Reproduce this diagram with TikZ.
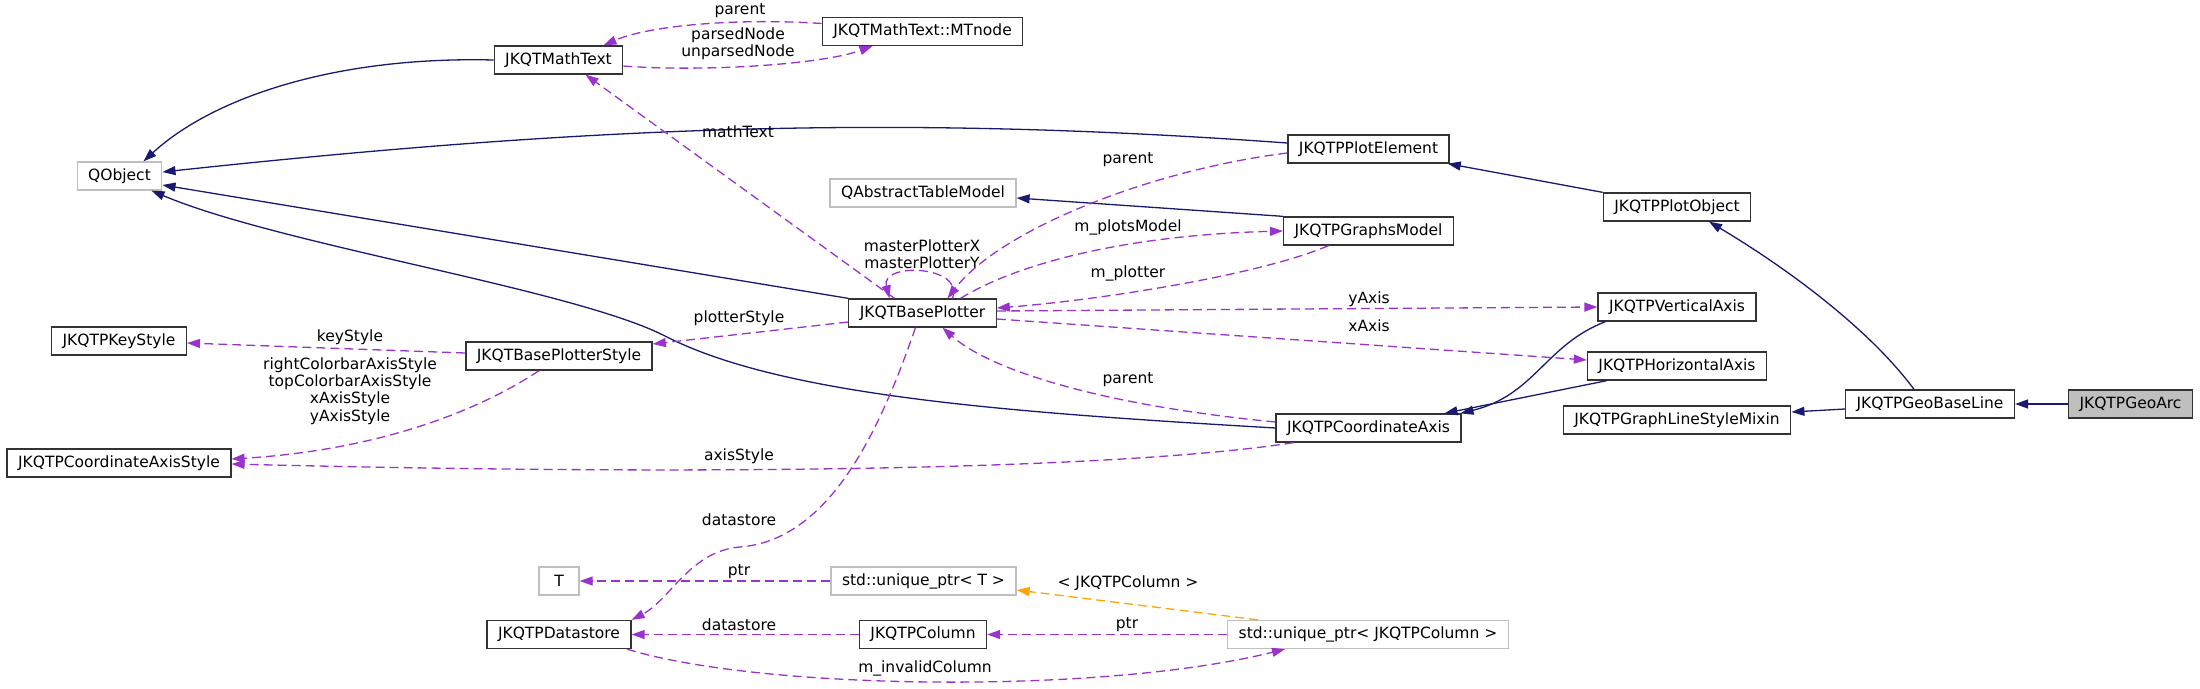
\documentclass[tikz,border=0pt]{standalone}
\usepackage{fontspec}
\setmainfont{DejaVu Sans}
\usetikzlibrary{arrows.meta}
\definecolor{EdgeNavy}{HTML}{191970}
\definecolor{EdgePurple}{HTML}{9A32CD}
\definecolor{EdgeOrange}{HTML}{FFA500}
\definecolor{ExtGray}{HTML}{BFBFBF}
\definecolor{BoxLine}{HTML}{333333}
\newcommand{\classfont}{\fontsize{15.5pt}{17.4pt}\selectfont}
\tikzset{
  cls/.style     ={rectangle, draw=BoxLine, line width=1.3pt, fill=white,
                   font=\classfont, inner xsep=11pt, inner ysep=0pt,
                   minimum height=28pt, minimum width=40pt},
  clsext/.style  ={cls, draw=ExtGray},
  clsroot/.style ={cls, fill=ExtGray},
  inh/.style     ={-{Triangle[length=13pt,width=9pt]}, draw=EdgeNavy, line width=1.3pt},
  use/.style     ={-{Triangle[length=13pt,width=9pt]}, draw=EdgePurple, line width=1.3pt,
                   dash pattern=on 9pt off 5pt},
  tmpl/.style    ={use, draw=EdgeOrange},
  lbl/.style     ={font=\classfont, align=center, inner sep=0pt},
}
\begin{document}
\begin{tikzpicture}[x=1pt,y=-1pt]
  \useasboundingbox (0,0) rectangle (2200,688);

  % classes
  \node[cls]     (mtnode)      at (922.5,31.5) {JKQTMathText::MTnode};
  \node[cls]     (mathtext)    at (558.5,60)   {JKQTMathText};
  \node[clsext]  (qobject)     at (119.5,176)  {QObject};
  \node[clsext]  (qatm)        at (923,193)    {QAbstractTableModel};
  \node[cls]     (plotelem)    at (1368.5,149) {JKQTPPlotElement};
  \node[cls]     (graphsmodel) at (1368.5,231) {JKQTPGraphsModel};
  \node[cls]     (plotobj)     at (1677,207)   {JKQTPPlotObject};
  \node[cls]     (bplotter)    at (922.5,313)  {JKQTBasePlotter};
  \node[cls]     (vaxis)       at (1677,307)   {JKQTPVerticalAxis};
  \node[cls]     (haxis)       at (1677,366)   {JKQTPHorizontalAxis};
  \node[cls]     (caxis)       at (1368.5,428) {JKQTPCoordinateAxis};
  \node[cls]     (linemixin)   at (1677,420)   {JKQTPGraphLineStyleMixin};
  \node[cls]     (geobase)     at (1930,404)   {JKQTPGeoBaseLine};
  \node[clsroot] (geoarc)      at (2130.5,404) {JKQTPGeoArc};
  \node[cls]     (keystyle)    at (119,341)    {JKQTPKeyStyle};
  \node[cls]     (bpstyle)     at (559,356)    {JKQTBasePlotterStyle};
  \node[cls]     (caxisstyle)  at (119,463)    {JKQTPCoordinateAxisStyle};
  \node[clsext]  (tnode)       at (559,581)    {T};
  \node[clsext]  (uptrT)       at (923.5,581)  {std::unique\_ptr< T >};
  \node[cls]     (datastore)   at (559,634.5)  {JKQTPDatastore};
  \node[cls]     (column)      at (923,634.5)  {JKQTPColumn};
  \node[clsext]  (uptrcol)     at (1368,634.5) {std::unique\_ptr< JKQTPColumn >};

  % inheritance
  \draw[inh] (mathtext.west) .. controls (330,56) and (210,100) .. ([xshift=24pt]qobject.north);
  \draw[inh] ([yshift=6pt]plotelem.west) .. controls (900,115) and (600,125) .. ([yshift=4pt]qobject.east);
  \draw[inh] (bplotter.north west) -- ([yshift=-9pt]qobject.east);
  \draw[inh] (caxis.west) .. controls (1000,412) and (780,395) .. (665,336)
                          .. controls (573,289) and (280,245) .. ([xshift=32pt]qobject.south);
  \draw[inh] (graphsmodel.north west) -- ([yshift=-5pt]qatm.east);
  \draw[inh] (plotobj.north west) -- ([xshift=-2pt]plotelem.south east);
  \draw[inh] ([xshift=-16pt]geobase.north) .. controls (1870,330) and (1790,270) .. ([xshift=32pt]plotobj.south);
  \draw[inh] (geoarc.west) -- (geobase.east);
  \draw[inh] ([yshift=-5pt]geobase.west) -- ([yshift=8pt]linemixin.east);
  \draw[inh] ([xshift=8pt]vaxis.south west) .. controls (1545,345) and (1535,395) .. ([xshift=92pt]caxis.north);
  \draw[inh] ([xshift=20pt]haxis.south west) -- ([xshift=76pt]caxis.north);

  % usage
  \draw[use] ([yshift=8pt]mtnode.west) .. controls (740,18) and (650,25) .. ([xshift=45pt]mathtext.north);
  \node[lbl] (lbparentmt) at (740,11) {parent};
  \draw[use] ([yshift=-6pt]mathtext.east) .. controls (700,72) and (820,65) .. ([xshift=-50pt]mtnode.south);
  \node[lbl] (lbparsed) at (738,43.5) {parsedNode\\unparsedNode};
  \draw[use] ([xshift=-28pt]bplotter.north) -- ([xshift=27pt]mathtext.south);
  \node[lbl] (lbmathtext) at (738,132) {mathText};
  \draw[use] ([xshift=30pt]bplotter.north) .. controls (965,265) and (880,262) .. ([xshift=-33pt]bplotter.north);
  \node[lbl] (lbmaster) at (922,254) {masterPlotterX\\masterPlotterY};
  \draw[use] ([yshift=-4pt]plotelem.west) .. controls (1150,170) and (1000,230) .. ([xshift=25pt]bplotter.north);
  \node[lbl] (lbparentpe) at (1128,160) {parent};
  \draw[use] ([xshift=38pt]bplotter.north) .. controls (1020,262) and (1130,235) .. (graphsmodel.west);
  \node[lbl] (lbplotsmodel) at (1128,227) {m\_plotsModel};
  \draw[use] ([xshift=-40pt]graphsmodel.south) .. controls (1260,275) and (1100,300) .. ([yshift=5pt]bplotter.east);
  \node[lbl] (lbplotter) at (1128,273) {m\_plotter};
  \draw[use] ([yshift=2pt]bplotter.east) -- (vaxis.west);
  \node[lbl] (lbyaxis) at (1369,299) {yAxis};
  \draw[use] ([yshift=-6pt]bplotter.east) -- ([yshift=6pt]haxis.west);
  \node[lbl] (lbxaxis) at (1369,326) {xAxis};
  \draw[use] ([yshift=6pt]caxis.west) .. controls (1100,405) and (990,370) .. ([xshift=20pt]bplotter.south);
  \node[lbl] (lbparentca) at (1128,380) {parent};
  \draw[use] ([yshift=-9pt]bplotter.west) -- ([yshift=12pt]bpstyle.east);
  \node[lbl] (lbplotterstyle) at (739,318) {plotterStyle};
  \draw[use] ([yshift=3pt]bpstyle.west) -- ([yshift=-2pt]keystyle.east);
  \node[lbl] (lbkeystyle) at (350,337) {keyStyle};
  \draw[use] ([xshift=-20pt]bpstyle.south) .. controls (480,410) and (380,450) .. ([yshift=4pt]caxisstyle.east);
  \node[lbl] (lbaxisstyles) at (350,391) {rightColorbarAxisStyle\\topColorbarAxisStyle\\xAxisStyle\\yAxisStyle};
  \draw[use] ([xshift=-75pt]caxis.south) .. controls (1150,465) and (800,478) .. ([yshift=-1pt]caxisstyle.east);
  \node[lbl] (lbaxisstyle) at (739,456) {axisStyle};
  \draw[use] ([xshift=-7pt]bplotter.south) .. controls (880,430) and (830,540) .. (740,547)
                                           .. controls (690,551) and (670,600) .. (datastore.north east);
  \node[lbl] (lbdatastore) at (739,520) {datastore};
  \draw[use] (uptrT.west) -- (tnode.east);
  \node[lbl] (lbptrT) at (739,572) {ptr};
  \draw[use] (column.west) -- (datastore.east);
  \node[lbl] (lbdatastorecol) at (739,625) {datastore};
  \draw[use] (uptrcol.west) -- (column.east);
  \node[lbl] (lbptrcol) at (1127,625) {ptr};
  \draw[tmpl] ([xshift=-110pt]uptrcol.north) -- ([yshift=-9pt]uptrT.east);
  \node[lbl] (lbtemplate) at (1128,583) {< JKQTPColumn >};
  \draw[use] ([xshift=68pt]datastore.south) .. controls (760,690) and (1100,695) .. ([xshift=-83pt]uptrcol.south);
  \node[lbl] (lbinvalid) at (925,668) {m\_invalidColumn};
\end{tikzpicture}
\end{document}
